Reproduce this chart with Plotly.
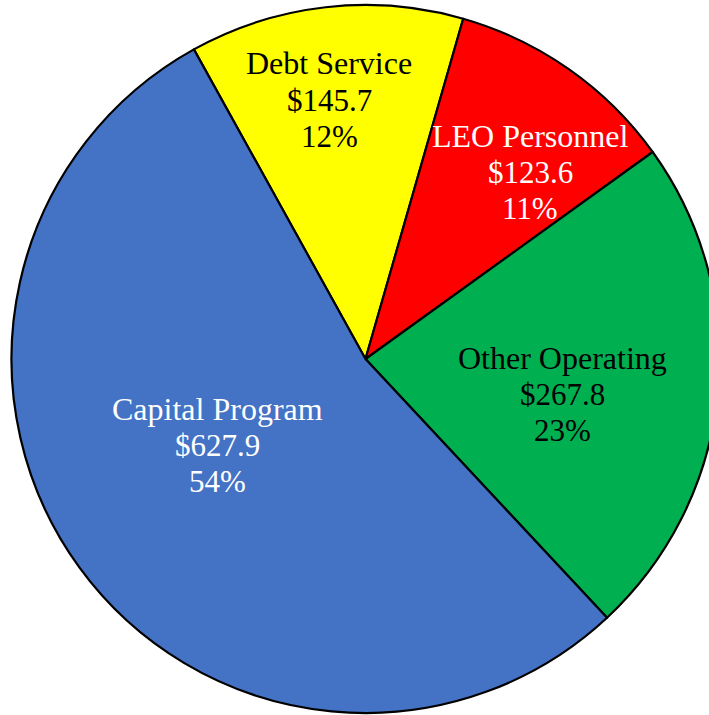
import plotly.graph_objects as go

# Data
labels = ["Debt Service", "LEO Personnel", "Other Operating", "Capital Program"]
values = [145.7, 123.6, 267.8, 627.9]
pct_labels = ["12%", "11%", "23%", "54%"]
colors = ["#FFFF00", "#FF0000", "#00B050", "#4472C4"]
text_colors = ["black", "white", "black", "white"]

W, H = 720, 715
cx, cy, r = 365.5, 359, 354  # pixel geometry (from top-left)

fig = go.Figure(go.Pie(
    labels=labels,
    values=values,
    sort=False,
    direction="clockwise",
    rotation=-29,
    marker=dict(colors=colors, line=dict(color="black", width=2.2)),
    textinfo="none",
    hoverinfo="label+value+percent",
    showlegend=False,
    domain=dict(x=[(cx - r) / W, (cx + r) / W],
                y=[(H - cy - r) / H, (H - cy + r) / H]),
))

# label centres (pixel, middle line)
label_pos = [(329, 100), (530, 172), (562, 394), (217, 445)]
spacing = 36.5
sizes = [32, 31, 31]
annotations = []
for lab, val, pct, col, (px, py) in zip(labels, values, pct_labels, text_colors, label_pos):
    lines = [lab, f"${val:.1f}", pct]
    for i, t in enumerate(lines):
        yy = py + (i - 1) * spacing
        annotations.append(dict(
            x=px / W, y=1 - yy / H, xref="paper", yref="paper",
            text=t, showarrow=False, xanchor="center", yanchor="middle",
            font=dict(family="Liberation Serif, Times New Roman, serif", size=sizes[i], color=col),
        ))

fig.update_layout(
    width=W, height=H, autosize=False,
    margin=dict(l=0, r=0, t=0, b=0),
    paper_bgcolor="white", plot_bgcolor="white",
    annotations=annotations,
)

fig.write_html("out.html", config={"displayModeBar": False},
               post_script="document.documentElement.style.overflow='hidden';document.body.style.margin='0';document.body.style.overflow='hidden';")
